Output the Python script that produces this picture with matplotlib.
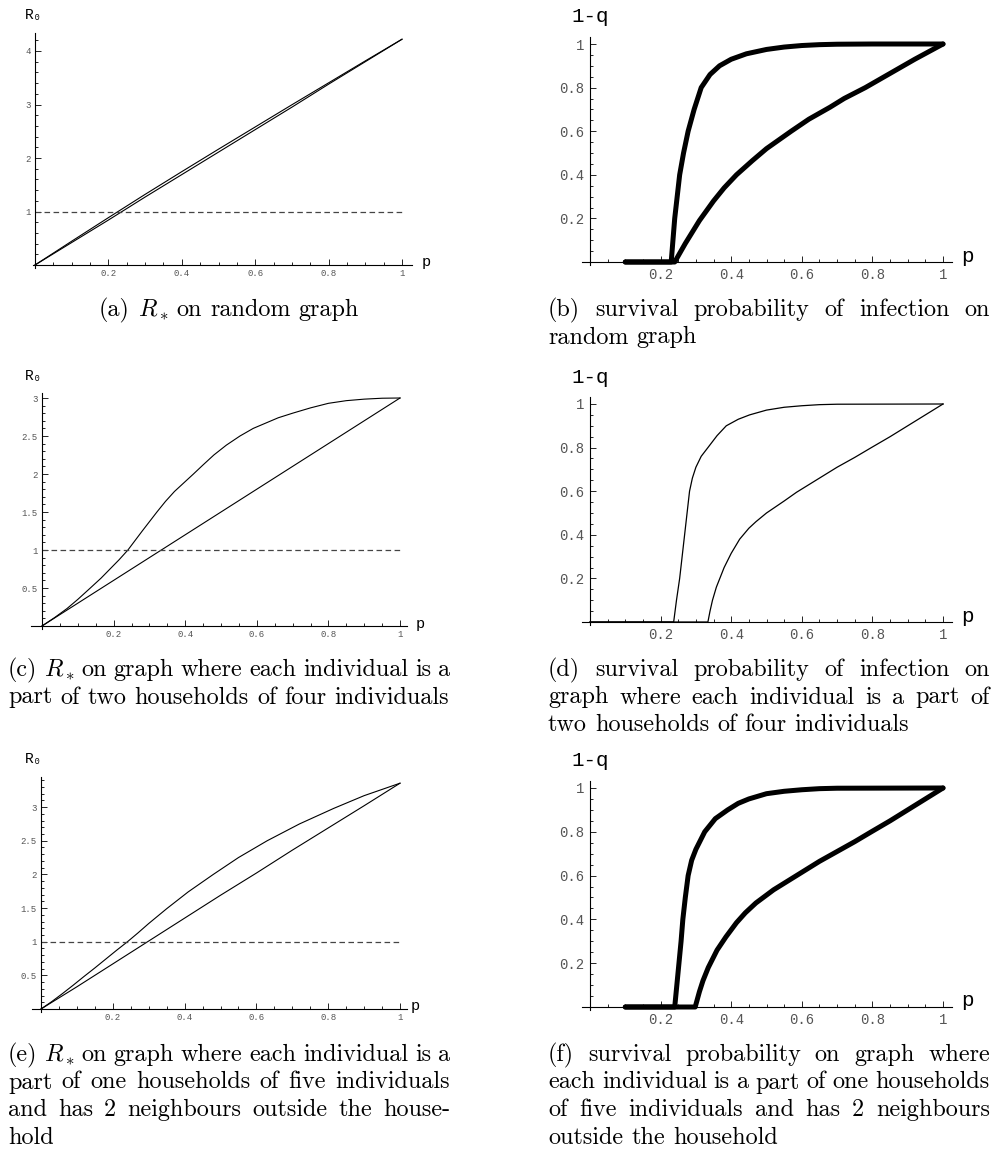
import matplotlib
matplotlib.use('Agg')
import matplotlib.pyplot as plt
from matplotlib.ticker import MultipleLocator, FuncFormatter

# ---- data ----
# (a) R* on random graph
a_p = [0, 0.1, 0.2, 0.3, 0.4, 0.5, 0.6, 0.7, 0.8, 0.9, 1.0]
a_low = [0, 0.42, 0.84, 1.27, 1.69, 2.11, 2.53, 2.95, 3.38, 3.80, 4.22]
a_up = [0, 0.445, 0.885, 1.32, 1.745, 2.165, 2.58, 2.995, 3.405, 3.815, 4.22]

# (b) survival probability, random graph
b_up_p = [0.1, 0.23, 0.235, 0.24, 0.247, 0.254, 0.265, 0.278, 0.295, 0.315, 0.34, 0.367,
          0.4, 0.443, 0.5, 0.55, 0.6, 0.65, 0.7, 0.8, 1.0]
b_up_q = [0, 0, 0.1, 0.2, 0.3, 0.4, 0.5, 0.6, 0.7, 0.8, 0.86, 0.9,
          0.93, 0.955, 0.975, 0.986, 0.993, 0.997, 0.999, 1.0, 1.0]
b_low_p = [0.1, 0.24, 0.27, 0.31, 0.35, 0.38, 0.415, 0.46, 0.5, 0.57, 0.62, 0.68, 0.72,
           0.78, 0.85, 0.92, 1.0]
b_low_q = [0, 0, 0.085, 0.19, 0.28, 0.34, 0.4, 0.465, 0.52, 0.6, 0.655, 0.71, 0.75,
           0.8, 0.865, 0.93, 1.0]

# (c) R* on two households of four
c_p = [0, 0.1, 0.2, 0.3, 0.4, 0.5, 0.6, 0.7, 0.8, 0.9, 1.0]
c_low = [0, 0.3, 0.6, 0.9, 1.2, 1.5, 1.8, 2.1, 2.4, 2.7, 3.0]
c_up_p = [0, 0.035, 0.07, 0.1, 0.135, 0.165, 0.19, 0.215, 0.24, 0.28, 0.321, 0.345, 0.37,
          0.423, 0.45, 0.48, 0.515, 0.553, 0.59, 0.62, 0.66, 0.7, 0.75, 0.8, 0.85, 0.9,
          0.95, 1.0]
c_up = [0, 0.11, 0.23, 0.35, 0.5, 0.63, 0.75, 0.87, 1.0, 1.25, 1.5, 1.64, 1.77,
        2.0, 2.12, 2.25, 2.38, 2.5, 2.6, 2.66, 2.74, 2.8, 2.87, 2.93, 2.965, 2.985,
        2.997, 3.0]

# (d) survival probability, two households of four
d_up_p = [0, 0.237, 0.245, 0.254, 0.261, 0.268, 0.275, 0.282, 0.29, 0.30, 0.315, 0.334,
          0.36, 0.386, 0.42, 0.452, 0.5, 0.55, 0.6, 0.65, 0.7, 1.0]
d_up_q = [0, 0, 0.1, 0.2, 0.3, 0.4, 0.5, 0.6, 0.66, 0.71, 0.76, 0.8,
          0.855, 0.9, 0.93, 0.95, 0.972, 0.985, 0.992, 0.997, 0.999, 1.0]
d_low_p = [0, 0.334, 0.34, 0.347, 0.358, 0.38, 0.4, 0.424, 0.45, 0.47, 0.5, 0.55, 0.585,
           0.65, 0.7, 0.75, 0.797, 0.85, 0.9, 1.0]
d_low_q = [0, 0, 0.05, 0.1, 0.16, 0.25, 0.315, 0.38, 0.43, 0.46, 0.5, 0.555, 0.595,
           0.66, 0.71, 0.755, 0.8, 0.85, 0.9, 1.0]

# (e) R* on one household of five + 2 neighbours
e_p = [0, 0.1, 0.2, 0.3, 0.4, 0.5, 0.6, 0.7, 0.8, 0.9, 1.0]
e_low = [0, 0.33, 0.67, 1.01, 1.35, 1.69, 2.02, 2.36, 2.69, 3.02, 3.355]
e_up_p = [0, 0.03, 0.06, 0.09, 0.119, 0.15, 0.18, 0.21, 0.241, 0.27, 0.3, 0.35, 0.41,
          0.48, 0.55, 0.63, 0.72, 0.815, 0.9, 1.0]
e_up = [0, 0.11, 0.23, 0.355, 0.48, 0.61, 0.74, 0.87, 1.0, 1.13, 1.27, 1.49, 1.74,
        2.0, 2.25, 2.5, 2.75, 2.98, 3.17, 3.355]

# (f) survival probability, one household of five + 2 neighbours
f_up_p = [0.1, 0.24, 0.246, 0.252, 0.258, 0.263, 0.27, 0.278, 0.288, 0.30, 0.325, 0.355,
          0.39, 0.42, 0.45, 0.5, 0.55, 0.6, 0.65, 0.7, 1.0]
f_up_q = [0, 0, 0.1, 0.2, 0.3, 0.4, 0.5, 0.6, 0.67, 0.72, 0.8, 0.86,
          0.9, 0.93, 0.95, 0.974, 0.985, 0.992, 0.997, 0.999, 1.0]
f_low_p = [0.1, 0.298, 0.31, 0.32, 0.335, 0.36, 0.385, 0.415, 0.44, 0.47, 0.52, 0.585,
           0.65, 0.7, 0.75, 0.797, 0.85, 0.9, 0.95, 1.0]
f_low_q = [0, 0, 0.07, 0.12, 0.18, 0.26, 0.32, 0.385, 0.43, 0.475, 0.535, 0.6,
           0.665, 0.71, 0.755, 0.8, 0.85, 0.9, 0.95, 1.0]

captions = {
    'a': ["(a) $R_*$ on random graph"],
    'b': ["(b) survival probability of infection on", "random graph"],
    'c': ["(c) $R_*$ on graph where each individual is a",
          "part of two households of four individuals"],
    'd': ["(d) survival probability of infection on",
          "graph where each individual is a part of",
          "two households of four individuals"],
    'e': ["(e) $R_*$ on graph where each individual is a",
          "part of one households of five individuals",
          "and has 2 neighbours outside the house-",
          "hold"],
    'f': ["(f) survival probability on graph where",
          "each individual is a part of one households",
          "of five individuals and has 2 neighbours",
          "outside the household"],
}

plt.rcParams['font.family'] = ['Liberation Mono', 'DejaVu Sans Mono']
plt.rcParams['lines.scale_dashes'] = False

W, H = 991, 1153
fig = plt.figure(figsize=(W / 100, H / 100), dpi=100)
fig.patch.set_facecolor('white')


def ftext(x, y, s, **kw):
    return fig.text(x / W, 1 - y / H, s, **kw)


def make_axes(ox, oy, sx, sy, xlim, ylim, yticks, yminor, big):
    left = (ox + xlim[0] * sx) / W
    bottom = 1 - (oy - ylim[0] * sy) / H
    ax = fig.add_axes([left, bottom, (xlim[1] - xlim[0]) * sx / W,
                       (ylim[1] - ylim[0]) * sy / H])
    ax.set_xlim(xlim)
    ax.set_ylim(ylim)
    ax.patch.set_alpha(0)
    for s in ['top', 'right']:
        ax.spines[s].set_visible(False)
    for s in ['left', 'bottom']:
        ax.spines[s].set_position(('data', 0))
        ax.spines[s].set_linewidth(0.8)
    ax.set_xticks([0.2, 0.4, 0.6, 0.8, 1.0])
    ax.xaxis.set_minor_locator(MultipleLocator(0.05))
    ax.set_yticks(yticks)
    ax.yaxis.set_minor_locator(MultipleLocator(yminor))
    fmt = FuncFormatter(lambda v, pos: '%g' % v)
    ax.xaxis.set_major_formatter(fmt)
    ax.yaxis.set_major_formatter(fmt)
    ax.tick_params(which='both', direction='in', color='black', width=0.6,
                   labelcolor='#555555', labelsize=10 if big else 6.5,
                   pad=4 if big else 3)
    ax.tick_params(which='major', length=4)
    ax.tick_params(which='minor', length=2)
    return ax


thin = dict(color='black', lw=0.8)
thick = dict(color='black', lw=3.6, solid_capstyle='round', solid_joinstyle='round')
dash = dict(color='#444444', lw=0.9, dashes=(4, 2.5))

# ---- left column: R0 curves ----
ax = make_axes(35, 265, 367, 53.5, (-0.005, 1.027), (-0.05, 4.33), [1, 2, 3, 4], 0.2, False)
ax.plot(a_p, a_low, **thin)
ax.plot(a_p, a_up, **thin)
ax.plot([0, 1], [1, 1], **dash)
ftext(34, 15, 'R₀', fontsize=10.5, ha='center', va='center')
ftext(426, 262, 'p', fontsize=11, ha='center', va='center')

ax = make_axes(42, 626, 358, 76, (-0.03, 1.02), (-0.04, 3.07), [0.5, 1, 1.5, 2, 2.5, 3], 0.1, False)
ax.plot(c_p, c_low, **thin)
ax.plot(c_up_p, c_up, **thin)
ax.plot([0, 1], [1, 1], **dash)
ftext(34, 376, 'R₀', fontsize=10.5, ha='center', va='center')
ftext(420, 624, 'p', fontsize=11, ha='center', va='center')

ax = make_axes(41, 1009, 359, 67.3, (-0.025, 1.02), (-0.05, 3.45), [0.5, 1, 1.5, 2, 2.5, 3], 0.1, False)
ax.plot(e_p, e_low, **thin)
ax.plot(e_up_p, e_up, **thin)
ax.plot([0, 1], [1, 1], **dash)
ftext(34, 759, 'R₀', fontsize=10.5, ha='center', va='center')
ftext(415, 1006, 'p', fontsize=11, ha='center', va='center')

# ---- right column: survival probability ----
qt = [0.2, 0.4, 0.6, 0.8, 1.0]
ax = make_axes(590, 262, 353, 218, (-0.023, 1.025), (-0.015, 1.03), qt, 0.05, True)
ax.plot(b_up_p, b_up_q, **thick)
ax.plot(b_low_p, b_low_q, **thick)
ftext(590, 17, '1-q', fontsize=15, ha='center', va='center')
ftext(967, 256, 'p', fontsize=15, ha='center', va='center')

ax = make_axes(590, 622, 353, 218, (-0.023, 1.025), (-0.015, 1.03), qt, 0.05, True)
ax.plot(d_up_p, d_up_q, color='black', lw=0.9)
ax.plot(d_low_p, d_low_q, color='black', lw=0.9)
ftext(590, 377, '1-q', fontsize=15, ha='center', va='center')
ftext(967, 616, 'p', fontsize=15, ha='center', va='center')

ax = make_axes(590, 1007, 353, 219, (-0.023, 1.025), (-0.015, 1.03), qt, 0.05, True)
ax.plot(f_up_p, f_up_q, **thick)
ax.plot(f_low_p, f_low_q, **thick)
ftext(590, 761, '1-q', fontsize=15, ha='center', va='center')
ftext(967, 1001, 'p', fontsize=15, ha='center', va='center')

# ---- captions (justified like the LaTeX source) ----
renderer = fig.canvas.get_renderer()
cap_kw = dict(fontfamily='cmr10', math_fontfamily='cm', va='baseline')


def width_of(s, fs):
    t = fig.text(0, 0, s, fontsize=fs, **cap_kw)
    w = t.get_window_extent(renderer).width
    t.remove()
    return w


cap_fs = 15 * 442 / width_of("part of two households of four individuals", 15)
space_w = width_of("x x", cap_fs) - width_of("xx", cap_fs)


def caption(lines, x0, x1, y_first, centered=False):
    for i, line in enumerate(lines):
        y = y_first + i * 27.5 + 6
        words = line.split(' ')
        widths = [width_of(w, cap_fs) for w in words]
        last = i == len(lines) - 1
        if centered:
            gap = space_w
            x = (x0 + x1) / 2 - (sum(widths) + gap * (len(words) - 1)) / 2
        elif last or len(words) == 1:
            gap = space_w
            x = x0
        else:
            gap = max((x1 - x0 - sum(widths)) / (len(words) - 1), 2)
            x = x0
        for w, wd in zip(words, widths):
            ftext(x, y, w, fontsize=cap_fs, **cap_kw)
            x += wd + gap


caption(captions['a'], 8, 450, 310, centered=True)
caption(captions['b'], 548, 990, 310)
caption(captions['c'], 8, 450, 670)
caption(captions['d'], 548, 990, 670)
caption(captions['e'], 8, 450, 1055)
caption(captions['f'], 548, 990, 1055)

fig.savefig('out.png', dpi=100, facecolor='white')
